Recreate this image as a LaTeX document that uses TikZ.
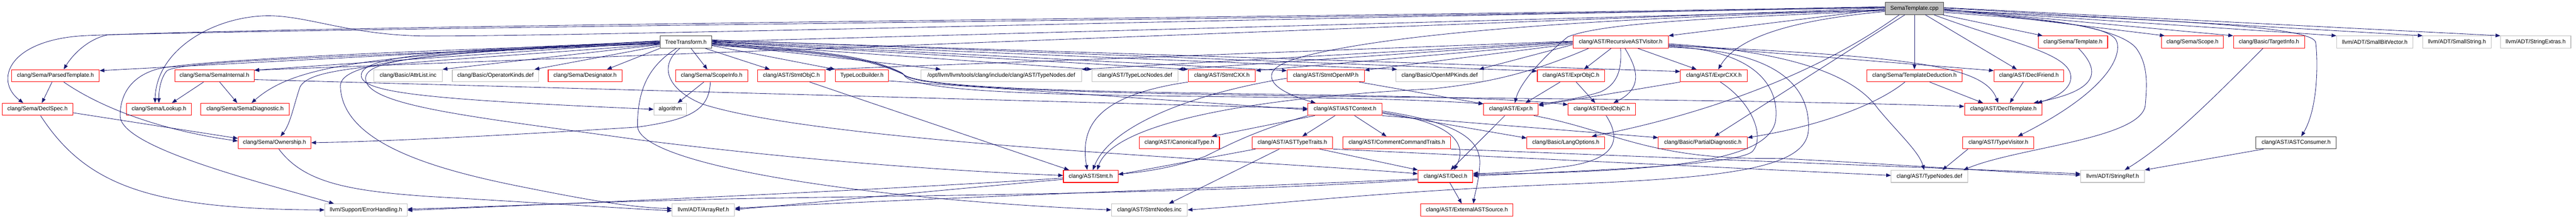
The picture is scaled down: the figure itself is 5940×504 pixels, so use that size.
\documentclass[tikz,border=0pt]{standalone}
\usepackage{fontspec}
\setmainfont{Liberation Sans}
\usetikzlibrary{arrows.meta}
\definecolor{dxred}{RGB}{255,0,0}
\definecolor{dxgray}{RGB}{191,191,191}
\definecolor{dxblack}{RGB}{64,64,64}
\definecolor{dxblue}{RGB}{25,25,112}
\newcommand\mkbox[6]{\node[#1, minimum width={#4pt-#3pt}] (#2) at ({(#3+#4)/2},#5) {#6};}
\tikzset{
  nd/.style={draw, rectangle, inner sep=0pt, minimum height=28pt, line width=1.3pt, font=\fontsize{13}{15}\selectfont, text=black},
  rb/.style={nd, draw=dxred},
  gb/.style={nd, draw=dxgray},
  kb/.style={nd, draw=dxblack},
  rootb/.style={nd, draw=dxblack, fill=dxgray},
  e/.style={draw=dxblue, line width=1pt, -{Triangle[length=11pt,width=8.5pt]}},
}
\begin{document}
\begin{tikzpicture}[x=1pt,y=-1pt]
\useasboundingbox (0,0) rectangle (5940,504);
% row 0
\mkbox{rootb}{root}{4347}{4482}{19.5}{SemaTemplate.cpp}
% row 1
\mkbox{kb}{tt}{1522}{1641}{97}{TreeTransform.h}
\mkbox{rb}{rav}{3627}{3847}{97}{clang/AST/RecursiveASTVisitor.h}
\mkbox{rb}{stpl}{4700}{4860}{97}{clang/Sema/Template.h}
\mkbox{rb}{scope}{4984}{5127}{97}{clang/Sema/Scope.h}
\mkbox{rb}{target}{5150}{5314}{97}{clang/Basic/TargetInfo.h}
\mkbox{gb}{sbv}{5388}{5564}{97}{llvm/ADT/SmallBitVector.h}
\mkbox{gb}{sstr}{5587}{5744}{97}{llvm/ADT/SmallString.h}
\mkbox{gb}{sext}{5766}{5928}{97}{llvm/ADT/StringExtras.h}
% row 2
\mkbox{rb}{parsed}{27}{229}{174.5}{clang/Sema/ParsedTemplate.h}
\mkbox{rb}{semaint}{403}{586}{174.5}{clang/Sema/SemaInternal.h}
\mkbox{gb}{attrlist}{862}{1020}{174.5}{clang/Basic/AttrList.inc}
\mkbox{gb}{opkinds}{1043}{1242}{174.5}{clang/Basic/OperatorKinds.def}
\mkbox{rb}{desig}{1264}{1434}{174.5}{clang/Sema/Designator.h}
\mkbox{rb}{scopeinfo}{1558}{1724}{174.5}{clang/Sema/ScopeInfo.h}
\mkbox{rb}{stmtobjc}{1747}{1903}{174.5}{clang/AST/StmtObjC.h}
\mkbox{rb}{tlb}{1926}{2049}{174.5}{TypeLocBuilder.h}
\mkbox{gb}{optnodes}{2124}{2494}{174.5}{/opt/llvm/llvm/tools/clang/include/clang/AST/TypeNodes.def}
\mkbox{gb}{tlnodes}{2518}{2716}{174.5}{clang/AST/TypeLocNodes.def}
\mkbox{rb}{stmtcxx}{2740}{2895}{174.5}{clang/AST/StmtCXX.h}
\mkbox{rb}{stmtomp}{2968}{3146}{174.5}{clang/AST/StmtOpenMP.h}
\mkbox{gb}{ompkinds}{3219}{3420}{174.5}{clang/Basic/OpenMPKinds.def}
\mkbox{rb}{exprobjc}{3545}{3700}{174.5}{clang/AST/ExprObjC.h}
\mkbox{rb}{exprcxx}{3875}{4029}{174.5}{clang/AST/ExprCXX.h}
\mkbox{rb}{tded}{4305}{4524}{174.5}{clang/Sema/TemplateDeduction.h}
\mkbox{rb}{dfriend}{4598}{4759}{174.5}{clang/AST/DeclFriend.h}
% row 3
\mkbox{rb}{declspec}{5}{168}{252}{clang/Sema/DeclSpec.h}
\mkbox{rb}{lookup}{292}{441}{252}{clang/Sema/Lookup.h}
\mkbox{rb}{semadiag}{463}{667}{252}{clang/Sema/SemaDiagnostic.h}
\mkbox{gb}{algorithm}{1508}{1583}{252}{algorithm}
\mkbox{rb}{astctx}{3016}{3187}{252}{clang/AST/ASTContext.h}
\mkbox{rb}{expr}{3421}{3547}{252}{clang/AST/Expr.h}
\mkbox{rb}{declobjc}{3616}{3771}{252}{clang/AST/DeclObjC.h}
\mkbox{rb}{dtpl}{4530}{4709}{252}{clang/AST/DeclTemplate.h}
% row 4
\mkbox{rb}{ownership}{549}{717}{329}{clang/Sema/Ownership.h}
\mkbox{rb}{canon}{2627}{2812}{329}{clang/AST/CanonicalType.h}
\mkbox{rb}{asttt}{2887}{3073}{329}{clang/AST/ASTTypeTraits.h}
\mkbox{rb}{cct}{3097}{3345}{329}{clang/AST/CommentCommandTraits.h}
\mkbox{rb}{langopt}{3521}{3700}{329}{clang/Basic/LangOptions.h}
\mkbox{rb}{pdiag}{3824}{4029}{329}{clang/Basic/PartialDiagnostic.h}
\mkbox{rb}{tvis}{4526}{4690}{329}{clang/AST/TypeVisitor.h}
\mkbox{kb}{consumer}{5202}{5387}{329}{clang/AST/ASTConsumer.h}
% row 5
\mkbox{rb}{stmt}{2452}{2578}{406.5}{clang/AST/Stmt.h}
\mkbox{rb}{decl}{3270}{3396}{406.5}{clang/AST/Decl.h}
\mkbox{gb}{tnodes}{4361}{4537}{406.5}{clang/AST/TypeNodes.def}
\mkbox{gb}{sref}{4798}{4945}{406.5}{llvm/ADT/StringRef.h}
% row 6
\mkbox{gb}{errh}{749}{939}{484}{llvm/Support/ErrorHandling.h}
\mkbox{gb}{aref}{1550}{1694}{484}{llvm/ADT/ArrayRef.h}
\mkbox{gb}{snodes}{2563}{2738}{484}{clang/AST/StmtNodes.inc}
\mkbox{rb}{extsrc}{3276}{3489}{484}{clang/AST/ExternalASTSource.h}

% ---- edges from SemaTemplate.cpp
\draw[e] ([yshift=-3pt]root.west) -- ([yshift=1pt]tt.east);
\draw[e] ([yshift=-1pt]root.west) -- (rav.north east);
\draw[e] ([yshift=1pt]root.west) -- ([yshift=-2pt]semaint.north east);
\draw[e] ([yshift=2pt]root.west) .. controls (3000,40) and (1400,83) .. (990,83) .. controls (800,83) and (700,30) .. (600,37) .. controls (480,45) and (360,120) .. ([xshift=-9pt]lookup.north);
\draw[e] ([yshift=3pt]root.west) .. controls (3000,45) and (1200,58) .. (250,80) .. controls (200,90) and (165,130) .. ([xshift=19pt]parsed.north);
\draw[e] ([yshift=4pt]root.west) .. controls (3000,42) and (900,55) .. (200,82) .. controls (20,90) and (-15,185) .. ([xshift=-33pt]declspec.north);
\draw[e] ([yshift=-4pt]root.west) .. controls (3800,38) and (3350,65) .. (3100,110) .. controls (2960,135) and (2930,155) .. (2932,178) .. controls (2935,205) and (2990,225) .. ([xshift=-68pt]astctx.north);
\draw[e] ([yshift=-5pt]root.west) .. controls (4000,40) and (3700,50) .. (3615,85) .. controls (3560,130) and (3505,190) .. ([xshift=9pt]expr.north);
\draw[e] ([yshift=-7pt]root.west) .. controls (4150,45) and (4010,80) .. ([xshift=10pt]exprcxx.north);
\draw[e] ([xshift=-35pt]root.south) .. controls (4150,200) and (3850,280) .. ([xshift=60pt]langopt.north);
\draw[e] ([xshift=-22pt]root.south) -- ([xshift=27pt]pdiag.north);
\draw[e] (root.south) -- (tded.north);
\draw[e] ([xshift=25pt]root.south) -- ([xshift=-28pt]dfriend.north);
\draw[e] ([xshift=45pt]root.south) .. controls (4620,95) and (4770,120) .. (4775,175) .. controls (4778,205) and (4740,225) .. ([xshift=-12pt]dtpl.north east);
\draw[e] ([xshift=65pt]root.south) -- ([xshift=-70pt]stpl.north);
\draw[e] ([yshift=-1pt]root.east) -- ([xshift=8pt]scope.north west);
\draw[e] ([yshift=-2pt]root.east) -- (target.north west);
\draw[e] ([yshift=-3pt]root.east) -- (sbv.north west);
\draw[e] ([yshift=1pt]root.east) -- (sstr.north west);
\draw[e] ([yshift=2pt]root.east) -- (sext.north west);
\draw[e] ([yshift=-4pt]root.east) .. controls (4900,45) and (5345,55) .. (5340,100) .. controls (5345,145) and (5345,250) .. ([xshift=12pt]consumer.north);
\draw[e] ([yshift=-6pt]root.east) .. controls (4700,40) and (4880,60) .. (4925,110) .. controls (4955,150) and (4950,200) .. (4947,240) .. controls (4944,320) and (4650,340) .. ([xshift=-10pt]tnodes.north east);
\draw[e] ([yshift=-9pt]root.east) .. controls (4700,45) and (4850,55) .. (4878,90) .. controls (4895,115) and (4880,200) .. ([xshift=45pt]tvis.north);

% ---- edges from TreeTransform.h
\draw[e] ([yshift=2pt]tt.west) -- ([yshift=-3pt]parsed.north east);
\draw[e] (tt.west) -- ([yshift=-2pt]semaint.north east);
\draw[e] ([yshift=-1pt]tt.west) .. controls (850,125) and (680,150) .. ([xshift=15pt]semadiag.north);
\draw[e] ([yshift=-3pt]tt.west) .. controls (800,130) and (420,140) .. (385,163) .. controls (370,180) and (366,210) .. (lookup.north);
\draw[e] ([yshift=-5pt]tt.west) .. controls (900,150) and (720,150) .. (692,200) .. controls (678,240) and (670,285) .. ([xshift=14pt]ownership.north);
\draw[e] ([yshift=-2pt]tt.west) .. controls (900,118) and (430,140) .. (360,160) .. controls (300,178) and (277,220) .. (277,267) .. controls (277,340) and (600,420) .. ([xshift=-74pt]errh.north);
\draw[e] ([yshift=-6pt]tt.west) -- (attrlist.north east);
\draw[e] ([yshift=-9pt]tt.west) -- ([xshift=-10pt]opkinds.north east);
\draw[e] (tt.south west) -- ([xshift=-35pt]desig.north east);
\draw[e] ([yshift=1pt]tt.west) .. controls (1000,115) and (830,130) .. (833,175) .. controls (836,215) and (1000,230) .. (algorithm.west);
\draw[e] ([yshift=-4pt]tt.west) .. controls (1000,120) and (845,135) .. (843,180) .. controls (841,245) and (1100,270) .. (1470,322) .. controls (1850,370) and (2200,395) .. ([yshift=2pt]stmt.west);
\draw[e] ([yshift=3pt]tt.west) .. controls (1000,122) and (780,140) .. (785,200) .. controls (790,330) and (1000,390) .. (1200,430) .. controls (1350,460) and (1450,478) .. ([yshift=3pt]aref.west);
\draw[e] ([xshift=-22pt]tt.south) .. controls (1500,150) and (1470,200) .. (1470,290) .. controls (1470,380) and (2000,460) .. (snodes.west);
\draw[e] ([xshift=-14pt]tt.south) .. controls (1520,150) and (1535,205) .. (1620,240) .. controls (1900,330) and (2900,370) .. ([yshift=6pt]decl.west);
\draw[e] ([xshift=12pt]tt.south) -- ([xshift=-10pt]scopeinfo.north);
\draw[e] ([xshift=45pt]tt.south) -- ([xshift=-50pt]stmtobjc.north);
\draw[e] ([yshift=-8pt]tt.east) -- (tlb.north west);
\draw[e] ([yshift=-4pt]tt.east) -- ([xshift=-140pt]optnodes.north);
\draw[e] ([yshift=-2pt]tt.east) -- (tlnodes.north west);
\draw[e] (tt.east) -- (stmtcxx.north west);
\draw[e] ([yshift=1pt]tt.east) -- ([yshift=-3pt]stmtomp.north west);
\draw[e] ([yshift=2pt]tt.east) -- ([xshift=3pt]ompkinds.north west);
\draw[e] ([yshift=5pt]tt.east) -- ([yshift=-4pt]exprobjc.north west);
\draw[e] ([yshift=4pt]tt.east) -- ([yshift=-5pt]exprcxx.north west);
\draw[e] ([yshift=-3pt]tt.east) .. controls (1900,118) and (2000,128) .. (2080,168) .. controls (2110,230) and (3300,205) .. ([yshift=-4pt]declobjc.north west);
\draw[e] ([yshift=-5pt]tt.east) .. controls (1900,120) and (2000,130) .. (2082,170) .. controls (2110,235) and (3600,215) .. ([yshift=-8pt]dtpl.north west);
\draw[e] ([yshift=-7pt]tt.east) .. controls (1900,122) and (2000,132) .. (2084,172) .. controls (2112,240) and (3000,210) .. ([yshift=-2pt]expr.north west);

% ---- edges from RecursiveASTVisitor.h
\draw[e] ([xshift=-22pt]rav.south) -- ([xshift=30pt]exprobjc.north);
\draw[e] (rav.south) .. controls (3740,160) and (3730,195) .. (3690,212) .. controls (3640,228) and (3580,236) .. ([yshift=-3pt]expr.north east);
\draw[e] ([xshift=10pt]rav.south) .. controls (3770,150) and (3795,200) .. ([xshift=27pt]declobjc.north);
\draw[e] ([xshift=40pt]rav.south) -- ([xshift=-40pt]exprcxx.north);
\draw[e] ([yshift=-6pt]rav.east) -- ([yshift=-3pt]dfriend.north west);
\draw[e] ([yshift=-8pt]rav.east) .. controls (4400,130) and (4575,150) .. ([xshift=-12pt]dtpl.north);
\draw[e] ([yshift=-10pt]rav.east) .. controls (4050,115) and (4100,200) .. (4095,270) .. controls (4092,380) and (3800,395) .. ([yshift=4pt]decl.east);
\draw[e] ([yshift=-4pt]rav.east) .. controls (4150,120) and (4280,180) .. (4330,250) .. controls (4380,310) and (4425,350) .. ([xshift=-12pt]tnodes.north);
\draw[e] ([yshift=-12pt]rav.east) .. controls (4100,115) and (4175,200) .. (4170,300) .. controls (4165,385) and (4000,410) .. (3600,425) .. controls (3200,440) and (2950,470) .. (snodes.east);
\draw[e] ([yshift=-4pt]rav.west) -- ([yshift=-2pt]stmtomp.north east);
\draw[e] ([yshift=-6pt]rav.west) -- ([xshift=-10pt]ompkinds.north east);
\draw[e] ([yshift=-2pt]rav.west) -- ([yshift=-3pt]stmtcxx.north east);
\draw[e] (rav.west) -- (tlnodes.north east);
\draw[e] ([yshift=1pt]rav.west) -- (optnodes.north east);
\draw[e] ([yshift=2pt]rav.west) -- (stmtobjc.north east);
\draw[e] ([xshift=-74pt]rav.south) .. controls (3550,160) and (3450,190) .. (3300,205) .. controls (2800,230) and (2560,300) .. ([xshift=15pt]stmt.north);

% ---- other edges
\draw[e] ([xshift=-8pt]parsed.south) -- ([xshift=10pt]declspec.north);
\draw[e] ([xshift=19pt]parsed.south) .. controls (250,260) and (400,305) .. ([yshift=4pt]ownership.west);
\draw[e] ([yshift=-8pt]declspec.east) -- ([yshift=10pt]ownership.west);
\draw[e] ([xshift=7pt]declspec.south) .. controls (200,430) and (350,482) .. (errh.west);
\draw[e] ([xshift=-25pt]semaint.south) -- ([xshift=30pt]lookup.north);
\draw[e] ([xshift=12pt]semaint.south) -- ([xshift=-18pt]semadiag.north);
\draw[e] ([yshift=-9pt]semaint.east) -- ([yshift=2pt]astctx.west);
\draw[e] ([xshift=-18pt]scopeinfo.south) -- ([xshift=17pt]algorithm.north);
\draw[e] ([xshift=-3pt]scopeinfo.south) .. controls (1635,250) and (1600,275) .. (1470,293) .. controls (1200,310) and (900,326) .. (ownership.east);
\draw[e] ([yshift=-12pt]tlb.east) -- ([yshift=-1pt]astctx.west);
\draw[e] ([xshift=42pt]stmtobjc.south) -- ([xshift=-50pt]stmt.north);
\draw[e] (stmtcxx.south west) .. controls (2530,220) and (2490,290) .. ([xshift=-8pt]stmt.north);
\draw[e] ([yshift=-6pt]stmtomp.west) .. controls (2750,215) and (2560,290) .. ([xshift=5pt]stmt.north);
\draw[e] ([xshift=77pt]stmtomp.south) -- ([yshift=-2pt]expr.north west);
\draw[e] ([xshift=-23pt]astctx.south) -- ([xshift=23pt]asttt.north);
\draw[e] ([xshift=22pt]astctx.south) -- ([xshift=-24pt]cct.north);
\draw[e] ([xshift=-70pt]astctx.south) -- ([xshift=75pt]canon.north);
\draw[e] ([yshift=-9pt]astctx.east) -- ([yshift=-4pt]langopt.north west);
\draw[e] (astctx.south east) -- ([yshift=-3pt]pdiag.north west);
\draw[e] ([yshift=-7pt]astctx.east) .. controls (3400,290) and (3370,360) .. ([xshift=20pt]decl.north);
\draw[e] ([yshift=-4pt]astctx.east) .. controls (3380,285) and (3415,330) .. (3412,380) .. controls (3410,420) and (3400,450) .. ([xshift=15pt]extsrc.north);
\draw[e] (astctx.south west) .. controls (2900,300) and (2840,330) .. (2780,360) .. controls (2700,390) and (2620,398) .. ([yshift=5pt]stmt.east);
\draw[e] ([xshift=10pt]decl.south) -- ([xshift=-12pt]extsrc.north);
\draw[e] ([xshift=-14pt]expr.south) -- ([xshift=12pt]decl.north);
\draw[e] ([xshift=53pt]expr.south) .. controls (3720,300) and (3800,370) .. (4100,365) .. controls (4400,380) and (4650,400) .. ([yshift=3pt]sref.west);
\draw[e] ([xshift=-25pt]exprobjc.south) -- ([xshift=-30pt]expr.north east);
\draw[e] ([xshift=12pt]exprobjc.south) -- ([xshift=-15pt]declobjc.north);
\draw[e] (exprcxx.south west) -- ([yshift=-6pt]expr.north east);
\draw[e] ([xshift=15pt]exprcxx.south) .. controls (4045,240) and (4070,320) .. (4040,350) .. controls (4000,380) and (3700,392) .. ([yshift=1pt]decl.east);
\draw[e] ([xshift=10pt]declobjc.south) .. controls (3745,330) and (3715,372) .. (3600,385) .. controls (3500,398) and (3430,400) .. ([yshift=7pt]decl.east);
\draw[e] ([xshift=-22pt]tded.south) .. controls (4330,240) and (4200,290) .. ([yshift=-3pt]pdiag.north east);
\draw[e] ([xshift=35pt]tded.south) -- ([xshift=-47pt]dtpl.north);
\draw[e] ([xshift=-13pt]dfriend.south) -- ([xshift=15pt]dtpl.north);
\draw[e] ([xshift=13pt]stpl.south) .. controls (4850,170) and (4830,210) .. ([xshift=70pt]dtpl.north);
\draw[e] ([xshift=-70pt]tvis.south) -- ([xshift=30pt]tnodes.north);
\draw[e] ([xshift=63pt]asttt.south) -- (decl.north west);
\draw[e] ([xshift=-85pt]asttt.south) -- ([yshift=4pt]stmt.east);
\draw[e] ([xshift=-30pt]asttt.south) -- ([xshift=45pt]snodes.north);
\draw[e] (asttt.south east) -- ([yshift=2pt]tnodes.west);
\draw[e] (cct.south east) -- ([yshift=6pt]sref.west);
\draw[e] ([xshift=-14pt]target.south) .. controls (5100,230) and (5000,330) .. ([xshift=28pt]sref.north);
\draw[e] ([xshift=-75pt]consumer.south) -- (sref.north east);
\draw[e] ([xshift=10pt]ownership.south) .. controls (700,420) and (800,440) .. (990,453) .. controls (1200,465) and (1400,478) .. ([yshift=-2pt]aref.west);
\draw[e] ([yshift=-4pt]stmt.west) .. controls (2000,440) and (1300,470) .. ([yshift=-1pt]errh.east);
\draw[e] ([yshift=-7pt]stmt.west) .. controls (2150,440) and (1850,470) .. ([yshift=1pt]aref.east);
\draw[e] ([yshift=-6pt]decl.west) .. controls (2900,430) and (2300,450) .. ([yshift=4pt]aref.east);
\draw[e] ([yshift=-8pt]decl.west) .. controls (2750,450) and (1900,452) .. (1622,460) .. controls (1300,468) and (1100,478) .. ([yshift=2pt]errh.east);
\end{tikzpicture}
\end{document}
